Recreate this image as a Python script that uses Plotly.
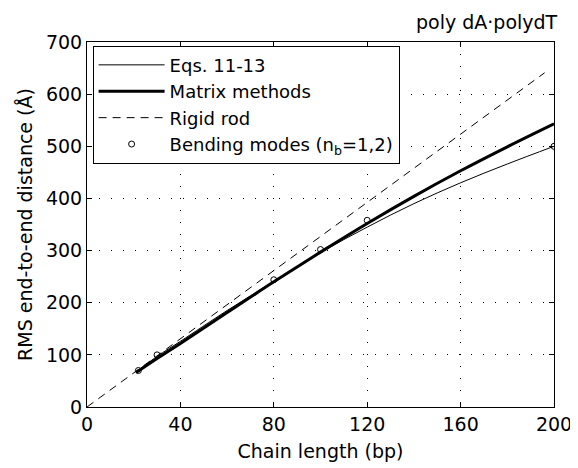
import plotly.graph_objects as go

# Data
eq_x = [21, 30, 40, 60, 80, 100, 120, 140, 160, 180, 200]
eq_y = [67, 97, 126, 185, 241, 296, 345, 390, 430, 466, 500]

mat_x = [21, 30, 40, 60, 80, 100, 120, 140, 160, 180, 200]
mat_y = [66, 93, 122, 181, 240, 297, 352, 404, 453, 499, 543]

rod_x = [0, 196]
rod_y = [0, 641]

bend_x = [22, 30, 80, 100, 120, 200]
bend_y = [70, 100, 244, 302, 358, 500]

x_ticks = [0, 40, 80, 120, 160, 200]
y_ticks = [0, 100, 200, 300, 400, 500, 600, 700]

FONT = "DejaVu Sans, Liberation Sans, Arial, sans-serif"
FS = 19

fig = go.Figure()
fig.add_trace(go.Scatter(x=eq_x, y=eq_y, mode="lines", name="Eqs. 11-13",
                         line=dict(color="black", width=1), line_shape="spline"))
fig.add_trace(go.Scatter(x=mat_x, y=mat_y, mode="lines", name="Matrix methods",
                         line=dict(color="black", width=3), line_shape="spline"))
fig.add_trace(go.Scatter(x=rod_x, y=rod_y, mode="lines", name="Rigid rod",
                         line=dict(color="black", width=1, dash="8px,6px")))
fig.add_trace(go.Scatter(x=bend_x, y=bend_y, mode="markers",
                         name="Bending modes (n<sub>b</sub>=1,2)",
                         marker=dict(symbol="circle-open", size=6, color="black",
                                     line=dict(width=1, color="black"))))

axis_common = dict(
    showline=True, linecolor="black", linewidth=1, mirror="ticks",
    ticks="inside", ticklen=5, tickcolor="black",
    showgrid=True, gridcolor="black", gridwidth=1, griddash="1px,11px",
    zeroline=False, automargin=False,
    tickfont=dict(size=FS, color="black", family=FONT),
)

fig.update_xaxes(range=[0, 200], tickvals=x_ticks, **axis_common,
                 title=dict(text="Chain length (bp)", font=dict(size=FS, color="black", family=FONT),
                            standoff=10))
fig.update_yaxes(range=[0, 700], tickvals=y_ticks, **axis_common,
                 title=dict(text="RMS end-to-end distance (Å)",
                            font=dict(size=FS, color="black", family=FONT), standoff=8))

# The page body adds an 8px offset, compensated in the margins
fig.update_layout(
    width=578, height=468,
    margin=dict(l=79, r=32, t=34, b=69),
    plot_bgcolor="white", paper_bgcolor="white",
    font=dict(family=FONT, size=FS, color="black"),
    showlegend=True,
    legend=dict(x=0.012, y=0.99, xanchor="left", yanchor="top",
                bgcolor="white", bordercolor="black", borderwidth=1,
                font=dict(size=18, family=FONT, color="black"),
                tracegroupgap=0, itemwidth=66),
    annotations=[dict(text="poly dA·polydT", xref="paper", yref="paper",
                      x=1.012, y=1.054, xanchor="right", yanchor="middle",
                      showarrow=False, font=dict(size=FS, family=FONT, color="black"))],
)

fig.write_html("out.html")
